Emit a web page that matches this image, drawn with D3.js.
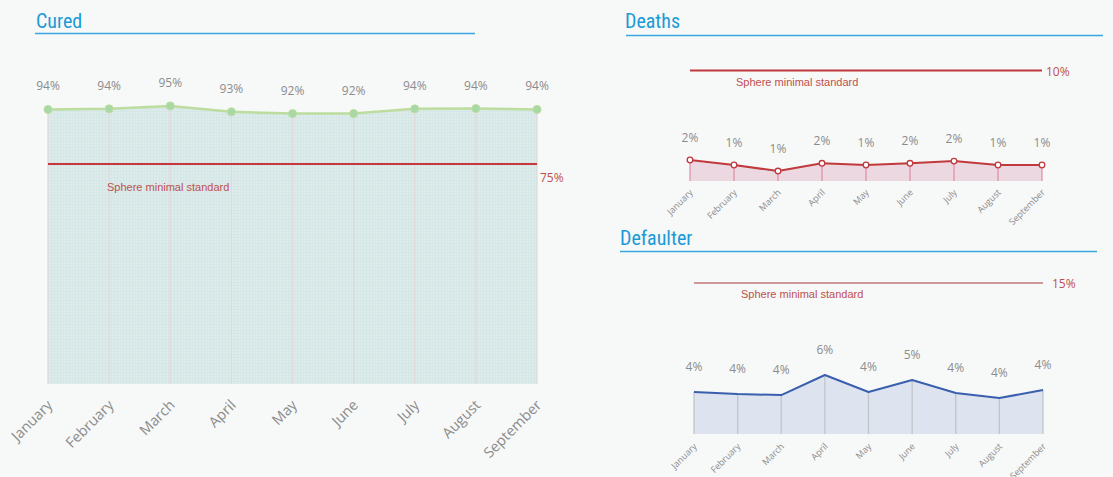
<!DOCTYPE html>
<html><head><meta charset="utf-8">
<script src="https://cdn.jsdelivr.net/npm/d3@7"></script>
<style>
html,body{margin:0;padding:0;background:#f7f8f8;}
svg{display:block;}
</style></head>
<body>
<svg id="c" width="1113" height="477"></svg>
<script>
const months = ["January","February","March","April","May","June","July","August","September"];
const curedValues = [93.6, 93.8, 94.8, 92.8, 92.2, 92.2, 93.8, 93.9, 93.6];
const deathsValues = [1.9, 1.45, 0.9, 1.6, 1.45, 1.6, 1.8, 1.45, 1.45];
const defaulterValues = [4.17, 3.97, 3.87, 5.86, 4.17, 5.36, 4.07, 3.57, 4.37];
const curedStandard = 75;
const deathsStandard = 10;
const defaulterStandard = 15;
const standardLabel = "Sphere minimal standard";

const svg = d3.select("#c");
svg.append("rect").attr("width",1113).attr("height",477).attr("fill","#f7f8f8");

const defs = svg.append("defs");
const pat = defs.append("pattern").attr("id","grid").attr("width",3).attr("height",3).attr("patternUnits","userSpaceOnUse");
pat.append("rect").attr("width",3).attr("height",3).attr("fill","#ddeceb");
pat.append("path").attr("d","M0 0.5H3M0.5 0V3").attr("stroke","#d0e4e4").attr("stroke-width",0.6);

const titleFont = "'Liberation Sans Narrow','Roboto Condensed','Liberation Sans',Arial,sans-serif";
const bodyFont = "'Open Sans','Noto Sans',sans-serif";
const fmt = v => Math.round(v) + "%";

function title(txt, x, y, x1, x2, ly){
  svg.append("text").attr("x",x).attr("y",y).text(txt)
    .attr("font-family",titleFont).attr("font-size",20).attr("fill","#1a9ad6");
  svg.append("line").attr("x1",x1).attr("x2",x2).attr("y1",ly).attr("y2",ly)
    .attr("stroke","#3aa6dd").attr("stroke-width",1.3);
}

function panel(o){
  const x = d3.scalePoint().domain(months).range(o.xr);
  const y = d3.scaleLinear().domain([0,o.std]).range([o.bottom,o.stdY]);
  const g = svg.append("g");
  const data = months.map((m,i)=>({m, v:o.values[i]}));
  const area = d3.area().x(d=>x(d.m)).y0(o.bottom).y1(d=>y(d.v));
  const line = d3.line().x(d=>x(d.m)).y(d=>y(d.v));
  g.append("path").datum(data).attr("d",area).attr("fill",o.fill);
  g.selectAll(".drop").data(data).join("line")
    .attr("x1",d=>x(d.m)).attr("x2",d=>x(d.m))
    .attr("y1",d=>o.fullDrop? o.bottom : y(d.v)).attr("y2",d=>o.fullDrop? y(d.v) : o.bottom)
    .attr("stroke",o.dropColor).attr("stroke-width",o.dropW||1);
  // standard line
  g.append("line").attr("x1",o.xr[0]).attr("x2",o.xr[1]).attr("y1",y(o.std)).attr("y2",y(o.std))
    .attr("stroke",o.stdColor).attr("stroke-width",o.stdW);
  g.append("text").attr("x",o.xr[1]+o.stdGap).attr("y",y(o.std)+o.stdLblDy).text(fmt(o.std))
    .attr("font-family",bodyFont).attr("font-size",o.stdFs).attr("fill","#c0504d");
  g.append("text").attr("x",o.sLblX).attr("y",y(o.std)+o.sLblDy).text(standardLabel)
    .attr("font-family","'Liberation Sans',Arial,sans-serif").attr("font-size",o.sFs).attr("fill","#c0504d");
  // series line
  g.append("path").datum(data).attr("d",line).attr("fill","none")
    .attr("stroke",o.lineColor).attr("stroke-width",o.lineW).attr("stroke-linejoin","round");
  if(o.marker){
    g.selectAll(".pt").data(data).join("circle")
      .attr("cx",d=>x(d.m)).attr("cy",d=>y(d.v)).attr("r",o.marker.r)
      .attr("fill",o.marker.fill).attr("stroke",o.marker.stroke).attr("stroke-width",o.marker.sw);
  }
  g.selectAll(".vl").data(data).join("text")
    .attr("x",d=>x(d.m)).attr("y",d=>y(d.v)-o.lblOff).attr("text-anchor","middle")
    .text(d=>fmt(d.v)).attr("font-family",bodyFont).attr("font-size",o.lblFs).attr("fill","#8c8c8c");
  const ax = d3.axisBottom(x).tickSize(0).tickPadding(0);
  const axg = g.append("g").attr("transform",`translate(0,${o.bottom})`).call(ax);
  axg.select(".domain").remove();
  axg.selectAll("text")
    .attr("font-family",bodyFont).attr("font-size",o.axFs).attr("fill","#8c8c8c")
    .attr("text-anchor","end").attr("dy",null)
    .attr("transform",`translate(${o.axDx},${o.axDy}) rotate(-45)`);
}

title("Cured", 36, 28, 35, 475, 33.5);
title("Deaths", 625, 28, 626, 1103, 35.5);
title("Defaulter", 620, 245, 620, 1097, 251.5);

panel({values:curedValues, std:curedStandard, xr:[48,537], bottom:384, stdY:164,
  fill:"url(#grid)", dropColor:"#e2d9da", dropW:1.3, fullDrop:true,
  stdColor:"#c8373a", stdW:2, stdGap:3, stdLblDy:18, stdFs:12,
  sLblX:107, sLblDy:27, sFs:11,
  lineColor:"#bddd9f", lineW:2.5, marker:{r:4, fill:"#a7d8a6", stroke:"#bddd9f", sw:1},
  lblOff:19, lblFs:12, axFs:14.5, axDx:5, axDy:22});

panel({values:deathsValues, std:deathsStandard, xr:[690,1042], bottom:181, stdY:70.5,
  fill:"#ecd8e0", dropColor:"#d97d98", dropW:1, fullDrop:false,
  stdColor:"#c0393c", stdW:2, stdGap:4, stdLblDy:5, stdFs:12,
  sLblX:736, sLblDy:15, sFs:11,
  lineColor:"#c0393c", lineW:2, marker:{r:2.8, fill:"#ffffff", stroke:"#c0393c", sw:1.3},
  lblOff:18, lblFs:12, axFs:9, axDx:3, axDy:12});

panel({values:defaulterValues, std:defaulterStandard, xr:[694,1043], bottom:434, stdY:283,
  fill:"#dde3ef", dropColor:"#c4c4c8", dropW:1.3, fullDrop:false,
  stdColor:"#a83a3c", stdW:1.2, stdGap:9, stdLblDy:5, stdFs:12,
  sLblX:741, sLblDy:15, sFs:11,
  lineColor:"#3a5fae", lineW:2, marker:null,
  lblOff:21, lblFs:12, axFs:9, axDx:3, axDy:13});
</script>
</body></html>
